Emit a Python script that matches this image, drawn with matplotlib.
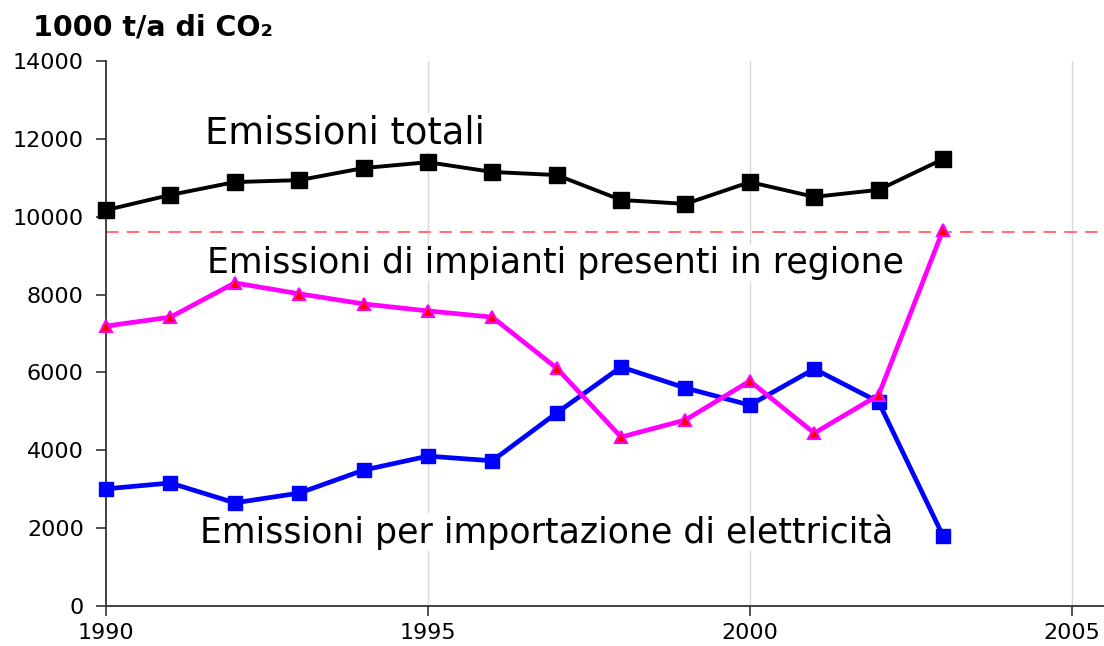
import matplotlib
matplotlib.use("Agg")
import matplotlib.pyplot as plt

# Annual CO2 emissions (thousand tonnes per year)
years = [1990, 1991, 1992, 1993, 1994, 1995, 1996, 1997,
         1998, 1999, 2000, 2001, 2002, 2003]
emissioni_totali = [10170, 10560, 10890, 10940, 11250, 11400, 11150,
                    11070, 10430, 10330, 10890, 10510, 10690, 11480]
emissioni_impianti = [7190, 7420, 8300, 8020, 7760, 7580, 7420,
                      6110, 4340, 4780, 5780, 4440, 5420, 9660]
emissioni_importazione = [3010, 3160, 2650, 2900, 3490, 3850, 3730,
                          4960, 6140, 5600, 5160, 6090, 5240, 1800]
soglia = 9600

x_ticks = [1990, 1995, 2000, 2005]
y_ticks = [0, 2000, 4000, 6000, 8000, 10000, 12000, 14000]
grid_years = [1995, 2000, 2005]

label_totali = "Emissioni totali"
label_impianti = "Emissioni di impianti presenti in regione"
label_importazione = "Emissioni per importazione di elettricità"
y_title = "1000 t/a di CO\u2082"

plt.rcParams["font.family"] = ["DejaVu Sans"]

fig = plt.figure(figsize=(11.04, 6.46), dpi=100)
ax = fig.add_axes([106 / 1104, 40 / 646, 998 / 1104, 545 / 646])

ax.set_xlim(1990, 2005.5)
ax.set_ylim(0, 14000)

for gy in grid_years:
    ax.axvline(gy, color="#d8d8d8", lw=1.0, zorder=0.5)

ax.axhline(soglia, color="#ff7373", lw=1.5, linestyle=(0, (6, 4)), zorder=1)

ax.plot(years, emissioni_totali, color="black", lw=2.8, marker="s",
        markersize=12, markerfacecolor="black", markeredgecolor="black",
        zorder=4, clip_on=False)
ax.plot(years, emissioni_impianti, color="#ff00ff", lw=3.4, marker="^",
        markersize=9, markerfacecolor="#ff0000", markeredgecolor="#ff00ff",
        markeredgewidth=1.5, zorder=4, clip_on=False)
ax.plot(years, emissioni_importazione, color="#0000ff", lw=3.4, marker="s",
        markersize=10, markerfacecolor="#0000ff", markeredgecolor="#0000ff",
        zorder=3, clip_on=False)

text_kw = dict(color="black", ha="left", va="baseline", zorder=2,
               bbox=dict(facecolor="white", edgecolor="none", pad=1))
ax.text(1991.54, 11893, label_totali, fontsize=26.5, **text_kw)
ax.text(1991.57, 8554, label_impianti, fontsize=25, **text_kw)
ax.text(1991.46, 1618, label_importazione, fontsize=25, **text_kw)

fig.text(33 / 1104, 1 - 36 / 646, y_title, fontsize=20.5, fontweight="bold",
         ha="left", va="baseline")

ax.set_xticks(x_ticks)
ax.set_yticks(y_ticks)
ax.tick_params(axis="both", direction="out", length=7, width=1.2,
               color="#333333", labelsize=16)
ax.tick_params(axis="y", pad=9)
ax.tick_params(axis="x", pad=5)

for side in ("top", "right"):
    ax.spines[side].set_visible(False)
for side in ("left", "bottom"):
    ax.spines[side].set_color("#333333")
    ax.spines[side].set_linewidth(1.3)

fig.savefig("out.png", dpi=100, facecolor="white")
